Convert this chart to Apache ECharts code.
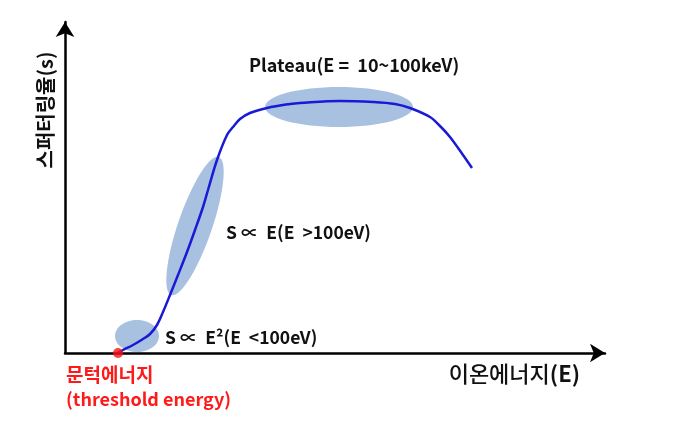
<!DOCTYPE html>
<html><head><meta charset="utf-8">
<script src="https://cdn.jsdelivr.net/npm/echarts@6/dist/echarts.min.js"></script>
<style>html,body{margin:0;padding:0;background:#fff}#c{width:680px;height:425px}</style>
</head><body><div id="c"></div>
<script>
// Ion energy (arbitrary units) vs sputtering yield (arbitrary units)
var energy = [53,58,68,78,85,92,98,105,113,122,130,138,143,152,162,168,175,185,202,225,235,275,308,330,345,365,375,385,398,407];
var yieldS = [0,3,8,14,19,28,41,58,78,101,123,146,163,193,218,226,234,240,245,249,250,252,251,249,245,236,227,216,198,185];
// highlighted regions: [centerE, centerS, radiusE, radiusS, tiltDeg]
var regionLow = [72,17,22,16,0];
var regionLinear = [130,127,73,17,71];
var regionPlateau = [274,246,74,20,0];
var threshold = [53,0];
var xTitle = '이온에너지';
var xTitleSym = '(E)';
var yTitle = '스퍼터링율(s)';
var labelPlateau = 'Plateau(E =  10~100keV)';
var labelLinear = 'S \u221D  E(E  >100eV)';
var labelLow = 'S \u221D  E\u00B2(E  <100eV)';
var labelThreshold1 = '문턱에너지';
var labelThreshold2 = '(threshold energy)';

var chart = echarts.init(document.getElementById('c'));
var F = '"Noto Sans CJK KR", "Noto Sans", sans-serif';
chart.setOption({
  animation:false,
  grid:{left:65, top:22, width:540, height:331},
  xAxis:{type:'value', min:0, max:540, splitLine:{show:false}, axisTick:{show:false}, axisLabel:{show:false},
    axisLine:{lineStyle:{color:'#000', width:2.5}, symbol:['none','arrow'], symbolSize:[14,15]},
    name:'{k|'+xTitle+'}{b|'+xTitleSym+'}', nameLocation:'end', nameGap:0,
    nameTextStyle:{fontFamily:F, fontSize:22, color:'#111', align:'right', verticalAlign:'top', padding:[10,25,0,0],
      rich:{k:{fontFamily:F, fontSize:22, color:'#111', fontWeight:500}, b:{fontFamily:F, fontSize:22, color:'#111', fontWeight:'bold'}}}},
  yAxis:{type:'value', min:0, max:331, splitLine:{show:false}, axisTick:{show:false}, axisLabel:{show:false},
    axisLine:{lineStyle:{color:'#000', width:2.5}, symbol:['none','arrow'], symbolSize:[14,15]}},
  graphic:[
    {type:'text', x:45, y:110, rotation:Math.PI/2, style:{text:yTitle, font:'bold 20px '+F, fill:'#111', align:'center', verticalAlign:'middle'}},
    {type:'text', x:249, y:65, style:{text:labelPlateau, font:'bold 18px '+F, fill:'#111', verticalAlign:'middle'}},
    {type:'text', x:226, y:232, style:{text:labelLinear, font:'bold 17.5px '+F, fill:'#111', verticalAlign:'middle'}},
    {type:'text', x:165, y:337, style:{text:labelLow, font:'bold 17.5px '+F, fill:'#111', verticalAlign:'middle'}},
    {type:'text', x:66, y:375, style:{text:labelThreshold1, font:'bold 19px '+F, fill:'#ff1a1a', verticalAlign:'middle'}},
    {type:'text', x:66, y:399, style:{text:labelThreshold2, font:'bold 18px '+F, fill:'#ff1a1a', verticalAlign:'middle'}}
  ],
  series:[
    {type:'custom', data:[regionLow, regionLinear, regionPlateau], z:1,
     renderItem:function(params, api){
       var c = api.coord([api.value(0), api.value(1)]);
       var s = api.size([api.value(2), api.value(3)]);
       return {type:'ellipse', x:c[0], y:c[1], rotation:api.value(4)*Math.PI/180,
         shape:{cx:0, cy:0, rx:s[0], ry:s[1]}, style:{fill:'#a9c1e1'}};
     }},
    {type:'line', z:3, smooth:0.35, symbol:'none', data:energy.map(function(e,i){return [e, yieldS[i]];}),
     lineStyle:{color:'#1a1ad6', width:2.5}},
    {type:'scatter', z:4, data:[threshold], symbolSize:10, itemStyle:{color:'#ff1010'}}
  ]
});
</script></body></html>
